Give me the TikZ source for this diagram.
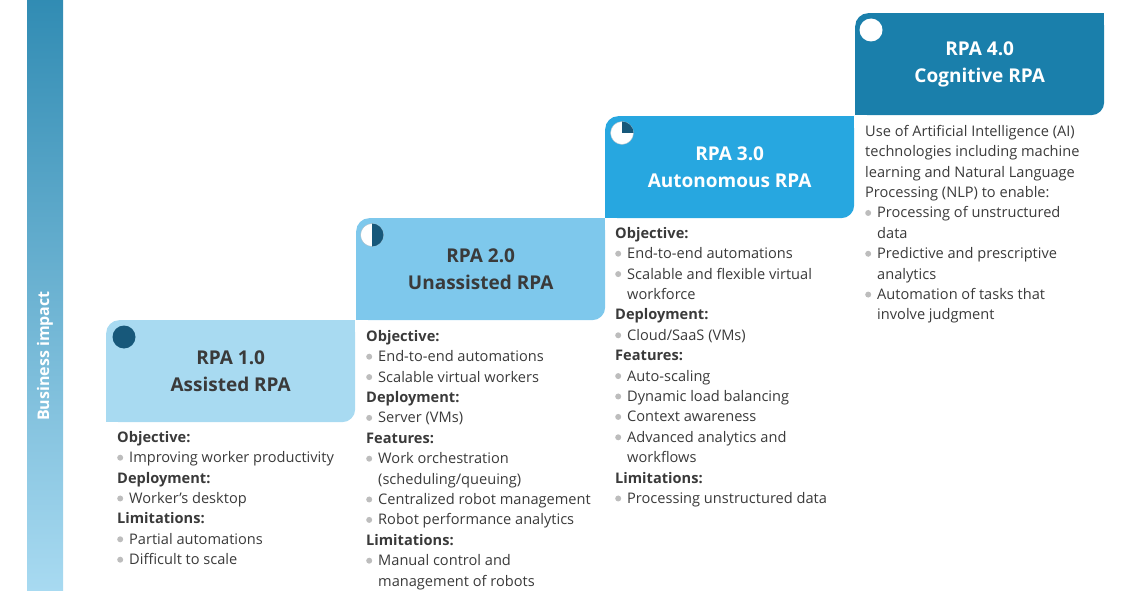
\documentclass[tikz,border=0pt]{standalone}
\usepackage{fontspec}
\setmainfont{Open Sans}
\usetikzlibrary{positioning}
\definecolor{stageA}{HTML}{A8DAF1}
\definecolor{stageB}{HTML}{7EC8EC}
\definecolor{stageC}{HTML}{27A7E0}
\definecolor{stageD}{HTML}{1A7FAB}
\definecolor{icondark}{HTML}{17587A}
\definecolor{bodygray}{HTML}{3A3A3A}
\definecolor{bulgray}{HTML}{BDBDBD}
\newcommand{\bul}{\makebox[12pt][l]{\tikz[baseline=-5pt]\fill[bulgray] (0,0) circle[radius=3pt];}}
\newcommand{\cnt}{\hspace*{12pt}}
\tikzset{
  stage/.style={rounded corners=13pt, minimum width=249pt, minimum height=102pt,
    anchor=north west, inner sep=0pt, align=center,
    font=\fontsize{19}{27}\selectfont\bfseries},
  body/.style={anchor=north west, inner sep=0pt, align=left, text=bodygray,
    font=\fontsize{14.6}{20.4}\selectfont},
  icon/.style={circle, fill=white, draw=icondark!40, line width=0.4pt,
    minimum size=23pt, inner sep=0pt}
}
\begin{document}
\begin{tikzpicture}[x=1pt, y=-1pt]
  \useasboundingbox (0,0) rectangle (1130,591);
  % impact bar
  \shade[top color=stageD!90, bottom color=stageA] (27,0) rectangle (63,591);
  \node (impact) [rotate=90, text=white, font=\fontsize{16}{18}\selectfont\bfseries] at (45,356) {Business impact};

  % stages
  \node (s1) [stage, fill=stageA, text=bodygray] at (106,320) {RPA 1.0\\Assisted RPA};
  \node (s2) [stage, fill=stageB, text=bodygray] at (356,218) {RPA 2.0\\Unassisted RPA};
  \node (s3) [stage, fill=stageC, text=white] at (605,116) {RPA 3.0\\Autonomous RPA};
  \node (s4) [stage, fill=stageD, text=white] at (855,13) {RPA 4.0\\Cognitive RPA};
  \foreach \s/\c in {s1/stageA, s2/stageB, s3/stageC, s4/stageD} {
    \fill[\c] (\s.north east) rectangle ++(-16pt,-16pt);
    \fill[\c] (\s.south west) rectangle ++(16pt,16pt);
  }

  % maturity icons
  \node (i1) [icon, fill=icondark, draw=none] at (124,337) {};
  \node (i2) [icon] at (372,235) {};
  \fill[icondark] (i2.center) -- ++(0pt,11.5pt) arc[start angle=90, end angle=-90, radius=11.5pt] -- cycle;
  \node (i3) [icon] at (622,133) {};
  \fill[icondark] (i3.center) -- ++(0pt,11.5pt) arc[start angle=90, end angle=0, radius=11.5pt] -- cycle;
  \node (i4) [icon, draw=none] at (871,30) {};

  % descriptions
  \node (d1) [body] at (117,431) {\textbf{Objective:}\\
    \bul Improving worker productivity\\
    \textbf{Deployment:}\\
    \bul Worker’s desktop\\
    \textbf{Limitations:}\\
    \bul Partial automations\\
    \bul Difficult to scale};
  \node (d2) [body] at (366,330) {\textbf{Objective:}\\
    \bul End-to-end automations\\
    \bul Scalable virtual workers\\
    \textbf{Deployment:}\\
    \bul Server (VMs)\\
    \textbf{Features:}\\
    \bul Work orchestration\\
    \cnt (scheduling/queuing)\\
    \bul Centralized robot management\\
    \bul Robot performance analytics\\
    \textbf{Limitations:}\\
    \bul Manual control and\\
    \cnt management of robots};
  \node (d3) [body] at (615,227) {\textbf{Objective:}\\
    \bul End-to-end automations\\
    \bul Scalable and flexible virtual\\
    \cnt workforce\\
    \textbf{Deployment:}\\
    \bul Cloud/SaaS (VMs)\\
    \textbf{Features:}\\
    \bul Auto-scaling\\
    \bul Dynamic load balancing\\
    \bul Context awareness\\
    \bul Advanced analytics and\\
    \cnt workflows\\
    \textbf{Limitations:}\\
    \bul Processing unstructured data};
  \node (d4) [body] at (865,125) {Use of Artificial Intelligence (AI)\\
    technologies including machine\\
    learning and Natural Language\\
    Processing (NLP) to enable:\\
    \bul Processing of unstructured\\
    \cnt data\\
    \bul Predictive and prescriptive\\
    \cnt analytics\\
    \bul Automation of tasks that\\
    \cnt involve judgment};
\end{tikzpicture}
\end{document}
